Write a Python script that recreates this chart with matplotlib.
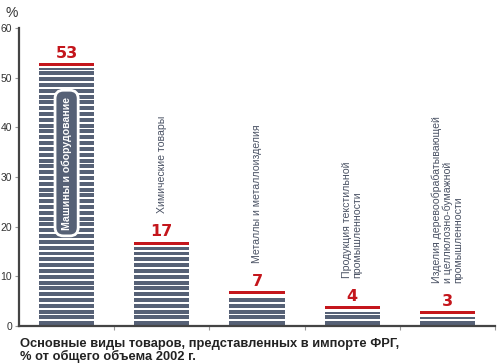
import matplotlib.pyplot as plt
import matplotlib as mpl
import numpy as np

# data
categories = [
    "Машины и оборудование",
    "Химические товары",
    "Металлы и металлоизделия",
    "Продукция текстильной\nпромышленности",
    "Изделия деревообрабатывающей\nи целлюлозно-бумажной\nпромышленности",
]
values = [53, 17, 7, 4, 3]
yticks = [0, 10, 20, 30, 40, 50, 60]
title = "Основные виды товаров, представленных в импорте ФРГ,\n% от общего объема 2002 г."

SLATE = "#566176"
RED = "#c4161c"
TEXT = "#4a5264"
AXIS = "#444444"

mpl.rcParams["font.family"] = ["Liberation Sans", "DejaVu Sans"]

fig = plt.figure(figsize=(5.0, 3.63), dpi=100)
ax = fig.add_axes([0.038, 0.102, 0.952, 0.821])

x = np.arange(len(values)) + 0.5
width = 0.58
cap = 0.65
step = 1.17      # stripe period in data units
dark = 0.8       # dark part of each stripe

# striped bodies: stack of thin bars under the red cap
for xi, v in zip(x, values):
    top = v - cap - 0.45
    starts = np.arange(0.15, top, step)
    heights = np.minimum(dark, top - starts)
    ax.bar(np.full(len(starts), xi), heights, bottom=starts, width=width,
           color=SLATE, linewidth=0, zorder=2)

# red cap on top
ax.bar(x, [cap] * len(values), bottom=[v - cap for v in values], width=width,
       color=RED, linewidth=0, zorder=3)

for xi, v in zip(x, values):
    ax.annotate(str(v), (xi, v), xytext=(0, 1.5), textcoords="offset points",
                ha="center", va="bottom", color=RED, fontsize=11.5,
                fontweight="bold", family="DejaVu Sans", zorder=4)

# first category: label inside the bar in a rounded box
ax.text(x[0], 32.8, categories[0], rotation=90, ha="center", va="center",
        color="white", fontsize=7.6, fontweight="bold", zorder=5,
        bbox=dict(boxstyle="round,pad=0.6,rounding_size=0.8", facecolor=SLATE,
                  edgecolor="white", linewidth=2))

for xi, v, name in zip(x[1:], values[1:], categories[1:]):
    ax.annotate(name, (xi, v), xytext=(0, 20.5), textcoords="offset points",
                rotation=90, ha="center", va="bottom", multialignment="left",
                color=TEXT, fontsize=7.6, linespacing=1.0, zorder=4)

ax.set_xlim(0, 5)
ax.set_ylim(0, 60)
ax.set_yticks(yticks)
ax.set_xticks([1, 2, 3, 4, 5])
ax.set_xticklabels([])
ax.tick_params(axis="y", length=3, width=0.8, color="#999999", labelsize=7.5,
               labelcolor="#333333", pad=2)
ax.tick_params(axis="x", length=3, width=0.8, color="#999999")

for side in ["top", "right"]:
    ax.spines[side].set_visible(False)
for side in ["left", "bottom"]:
    ax.spines[side].set_color(AXIS)
    ax.spines[side].set_linewidth(1.6)

fig.text(0.012, 0.965, "%", fontsize=10, color="#333333", va="center")
fig.text(0.04, 0.07, title, fontsize=9.3, fontweight="bold", color="#222222",
         va="top", ha="left", linespacing=1.05)

fig.savefig("out.png", dpi=100)
